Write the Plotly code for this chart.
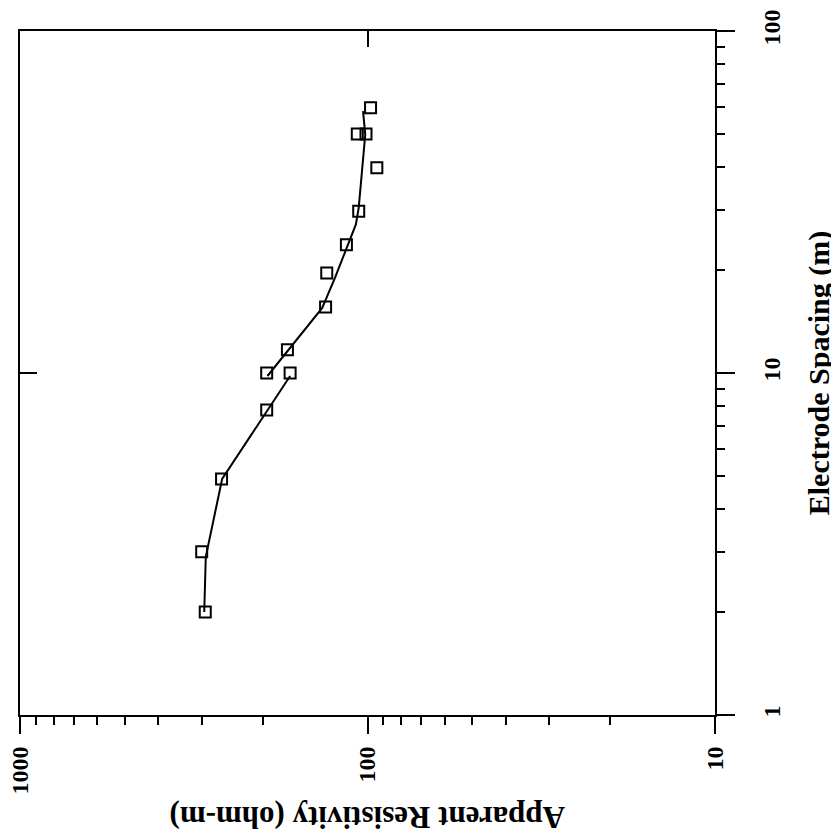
import plotly.graph_objects as go

# Measured data (electrode spacing in m, apparent resistivity in ohm-m)
spacing = [2, 3, 4.9, 7.8, 10, 10, 11.7, 15.6, 19.6, 23.7, 29.7, 39.8, 50, 50, 59.6]
resistivity = [293, 300, 263, 195, 195, 167, 170, 132, 131, 115, 106, 94, 107, 101, 98]

# Model (fitted) curve, two segments
fit1_spacing = [2, 2.9, 4.9, 7.9, 9.8]
fit1_res = [295, 292, 262, 192, 167]
fit2_spacing = [9.8, 11.7, 15.5, 19, 23.2, 27.2, 30.4, 38, 49.8, 58.3]
fit2_res = [194, 169, 135, 124, 115, 108, 106, 104, 101.5, 103]

res_ticks = [10, 100, 1000]
res_ticktext = ["10", "100", "1000"]
sp_ticks = [1, 10, 100]
sp_ticktext = ["1", "10", "100"]
res_minor = [k * 10 ** d for d in (1, 2) for k in range(2, 10)]
sp_minor = [k * 10 ** d for d in (0, 1) for k in range(2, 10)]

FONT = "Liberation Serif"

fig = go.Figure()
fig.add_trace(go.Scatter(x=fit1_res, y=fit1_spacing, mode="lines",
                         line=dict(color="black", width=2), showlegend=False, hoverinfo="skip"))
fig.add_trace(go.Scatter(x=fit2_res, y=fit2_spacing, mode="lines",
                         line=dict(color="black", width=2), showlegend=False, hoverinfo="skip"))
fig.add_trace(go.Scatter(x=resistivity, y=spacing, mode="markers",
                         marker=dict(symbol="square-open", size=11, color="black",
                                     line=dict(width=2, color="black")),
                         showlegend=False))
# invisible trace so the mirrored frame axes are drawn
fig.add_trace(go.Scatter(x=[resistivity[0]], y=[spacing[0]], xaxis="x2", yaxis="y2",
                         mode="markers", marker=dict(opacity=0), showlegend=False, hoverinfo="skip"))

axis_common = dict(showgrid=False, zeroline=False, showline=True, linewidth=2,
                   linecolor="black", tickcolor="black", tickwidth=2, automargin=False)

fig.update_layout(
    width=831, height=831,
    margin=dict(l=12, r=124, t=23, b=124),
    paper_bgcolor="white", plot_bgcolor="white",
    font=dict(family=FONT, color="black"),
    xaxis=dict(type="log", range=[3, 1], tickvals=res_ticks, ticktext=res_ticktext,
               tickangle=-90, ticks="outside", ticklen=17,
               tickfont=dict(size=24, weight="bold", family=FONT),
               ticklabelstandoff=3, ticklabeloverflow="allow",
               minor=dict(tickvals=res_minor, ticks="outside", ticklen=8, tickwidth=2,
                          tickcolor="black", showgrid=False),
               **axis_common),
    yaxis=dict(type="log", range=[0, 2], side="right", tickvals=sp_ticks, ticktext=sp_ticktext,
               tickangle=-90, ticks="outside", ticklen=18,
               tickfont=dict(size=24, weight="bold", family=FONT),
               ticklabelstandoff=16, ticklabeloverflow="allow",
               title=dict(text="Electrode Spacing (m)", font=dict(size=30, weight="bold", family=FONT),
                          standoff=24),
               minor=dict(tickvals=sp_minor, ticks="outside", ticklen=8, tickwidth=2,
                          tickcolor="black", showgrid=False),
               **axis_common),
    xaxis2=dict(type="log", range=[3, 1], overlaying="x", side="top", anchor="y2",
                tickvals=[100], ticks="inside", ticklen=16, showticklabels=False, **axis_common),
    yaxis2=dict(type="log", range=[0, 2], overlaying="y", side="left", anchor="x2",
                tickvals=[10], ticks="inside", ticklen=17, showticklabels=False, **axis_common),
    annotations=[dict(text="<b>Apparent Resistivity (ohm-m)</b>", xref="paper", yref="paper",
                      x=0.5, y=-0.149, xanchor="center", yanchor="middle", textangle=180,
                      showarrow=False, font=dict(size=31, family=FONT, color="black"))],
)

fig.write_html("out.html")
